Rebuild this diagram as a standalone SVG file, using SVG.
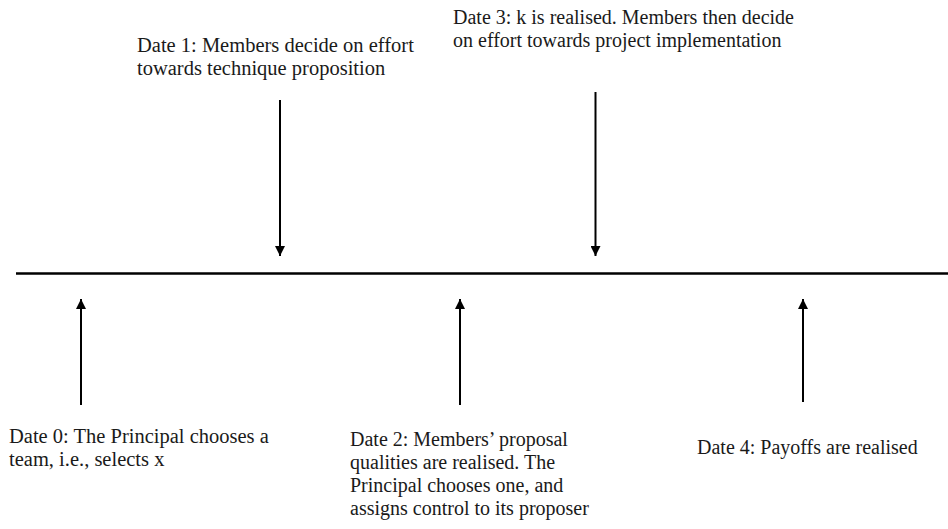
<svg xmlns="http://www.w3.org/2000/svg" width="948" height="529" viewBox="0 0 948 529">
<style>
.ln{stroke:#000;stroke-width:2;fill:none}
.tl{stroke:#000;stroke-width:2.5}
.t{font-family:'Liberation Serif',serif;font-size:20px;fill:#1a1a1a}
.big{font-size:20.5px}
</style>
<defs>
<marker id="ah" viewBox="0 0 10 10" refX="10" refY="5" markerWidth="10" markerHeight="10" markerUnits="userSpaceOnUse" orient="auto">
<path d="M0,0 L10,5 L0,10 Z" fill="#000"/>
</marker>
</defs>
<rect width="948" height="529" fill="#fff"/>
<g id="connectors">
<line class="tl" x1="16" y1="273.5" x2="948" y2="273.5"/>
<line class="ln" x1="280" y1="100" x2="280" y2="256" marker-end="url(#ah)"/>
<line class="ln" x1="595.5" y1="92" x2="595.5" y2="256" marker-end="url(#ah)"/>
<line class="ln" x1="81" y1="405" x2="81" y2="299" marker-end="url(#ah)"/>
<line class="ln" x1="460" y1="405" x2="460" y2="299" marker-end="url(#ah)"/>
<line class="ln" x1="803" y1="402" x2="803" y2="299" marker-end="url(#ah)"/>
</g>
<g id="date1" class="t big">
<text x="137" y="52">Date 1: Members decide on effort</text>
<text x="137" y="75">towards technique proposition</text>
</g>
<g id="date3" class="t">
<text x="453" y="24">Date 3: k is realised. Members then decide</text>
<text x="453" y="47">on effort towards project implementation</text>
</g>
<g id="date0" class="t big">
<text x="9" y="443">Date 0: The Principal chooses a</text>
<text x="9" y="466">team, i.e., selects x</text>
</g>
<g id="date2" class="t">
<text x="350" y="446">Date 2: Members’ proposal</text>
<text x="350" y="469">qualities are realised. The</text>
<text x="350" y="492">Principal chooses one, and</text>
<text x="350" y="515">assigns control to its proposer</text>
</g>
<g id="date4" class="t">
<text x="697" y="454">Date 4: Payoffs are realised</text>
</g>
</svg>
